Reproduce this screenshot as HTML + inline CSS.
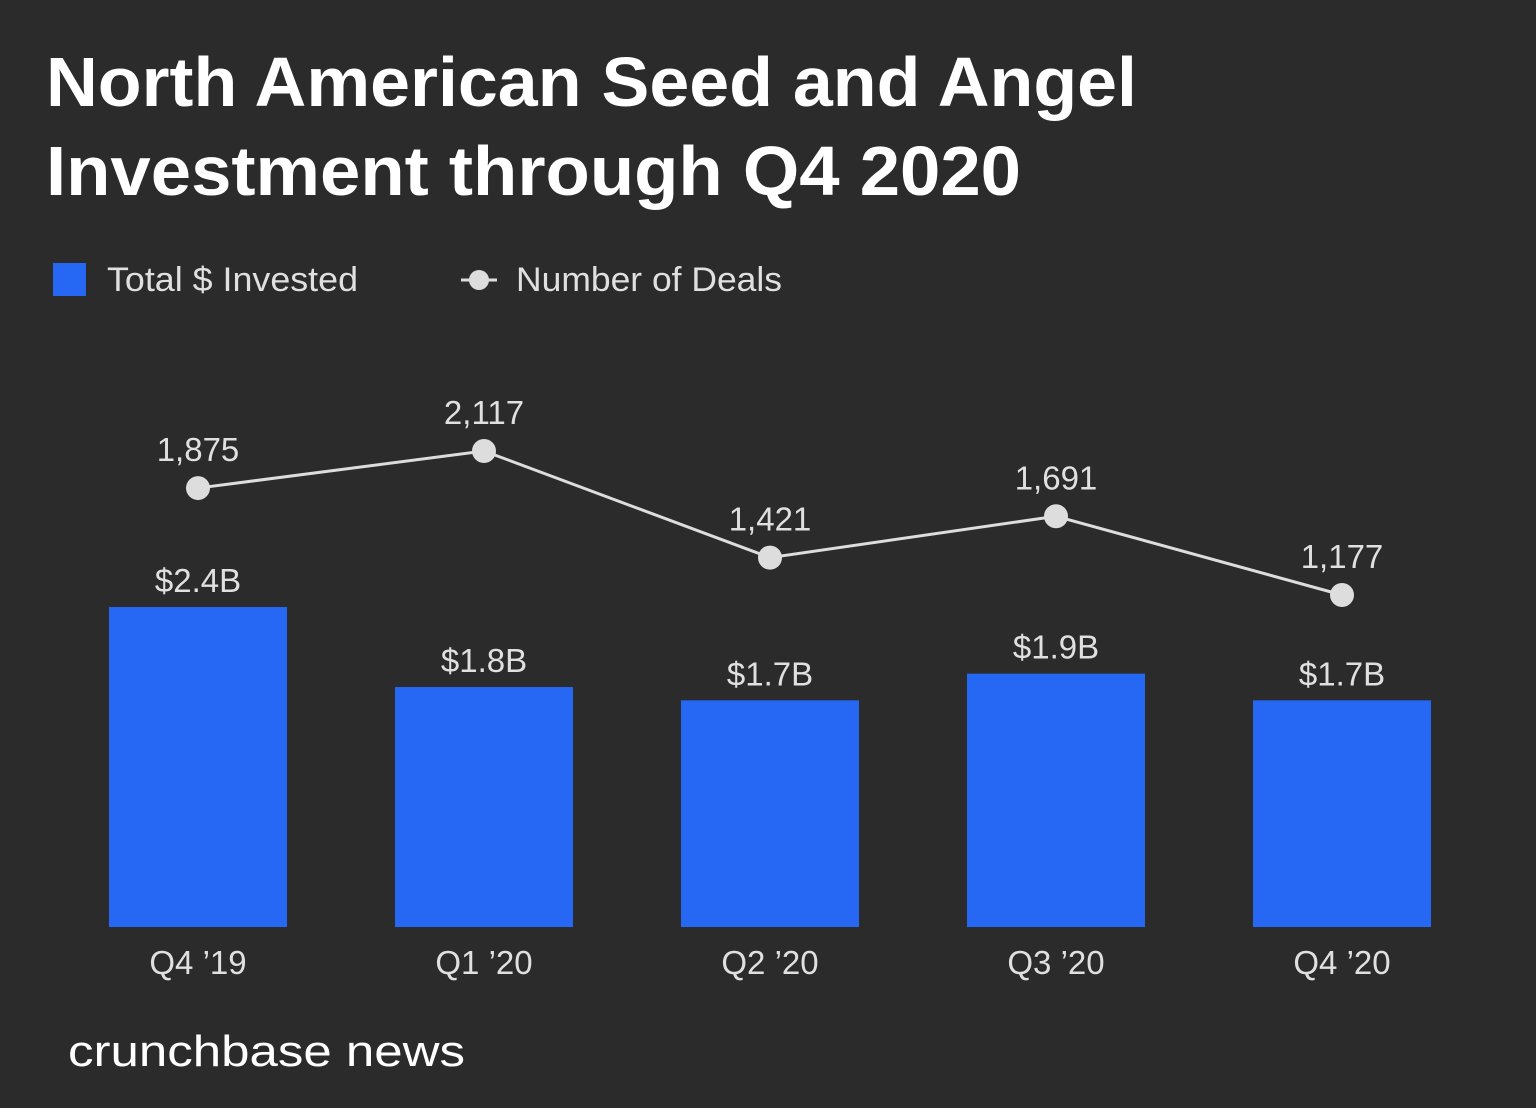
<!DOCTYPE html>
<html><head><meta charset="utf-8"><style>
html,body{margin:0;padding:0;background:#2b2b2b;}
svg{display:block;}
text{font-family:"Liberation Sans",sans-serif;}
</style></head><body>
<svg width="1536" height="1108" viewBox="0 0 1536 1108">
<rect width="1536" height="1108" fill="#2b2b2b"/>
<text x="46" y="106" font-size="70" font-weight="bold" fill="#fff" textLength="1091" lengthAdjust="spacingAndGlyphs">North American Seed and Angel</text>
<text x="46" y="195" font-size="70" font-weight="bold" fill="#fff" textLength="975" lengthAdjust="spacingAndGlyphs">Investment through Q4 2020</text>
<g>
<rect x="53" y="263" width="33" height="33" fill="#2667f4"/>
<text x="107" y="291" font-size="34" fill="#e0e0e0" textLength="251" lengthAdjust="spacingAndGlyphs">Total $ Invested</text>
<line x1="461" y1="280" x2="497" y2="280" stroke="#ddd" stroke-width="3"/>
<circle cx="479" cy="280" r="10" fill="#ddd"/>
<text x="516" y="291" font-size="34" fill="#e0e0e0" textLength="266" lengthAdjust="spacingAndGlyphs">Number of Deals</text>
</g>
<g id="plot"></g>
<text x="68" y="1066" font-size="44" fill="#fff" textLength="397" lengthAdjust="spacingAndGlyphs">crunchbase news</text>
</svg>
<script>
const categories=["Q4 \u201919","Q1 \u201920","Q2 \u201920","Q3 \u201920","Q4 \u201920"];
const invested=[2.4,1.8,1.7,1.9,1.7];
const investedLabels=["$2.4B","$1.8B","$1.7B","$1.9B","$1.7B"];
const deals=[1875,2117,1421,1691,1177];
const dealLabels=["1,875","2,117","1,421","1,691","1,177"];

const NS="http://www.w3.org/2000/svg";
const g=document.getElementById('plot');
const base=927, pxPerB=133.33, barW=178;
const xC=i=>198+i*286;
const yBar=v=>base-v*pxPerB;
const yDeal=v=>451+(2117-v)*0.1532;
function mk(tag,attrs){const e=document.createElementNS(NS,tag);for(const k in attrs)e.setAttribute(k,attrs[k]);g.appendChild(e);return e;}
categories.forEach((c,i)=>{
  const r=mk('rect',{x:xC(i)-barW/2,y:yBar(invested[i]),width:barW,height:base-yBar(invested[i]),fill:'#2667f4'});
  
  
  const t=mk('text',{x:xC(i),y:yBar(invested[i])-15,'text-anchor':'middle','font-size':33,fill:'#e0e0e0'});
  t.textContent=investedLabels[i];
  
  
  const xl=mk('text',{x:xC(i),y:974,'text-anchor':'middle','font-size':33,fill:'#e0e0e0'});
  xl.textContent=c;
  
  
});
const pts=deals.map((d,i)=>xC(i)+','+yDeal(d)).join(' ');
const pl=mk('polyline',{points:pts,fill:'none',stroke:'#ddd','stroke-width':3});


deals.forEach((d,i)=>{
  const c=mk('circle',{cx:xC(i),cy:yDeal(d),r:12,fill:'#ddd'});
  
  
  const t=mk('text',{x:xC(i),y:yDeal(d)-27,'text-anchor':'middle','font-size':33,fill:'#e0e0e0'});
  t.textContent=dealLabels[i];
  
  
});
</script>
</body></html>
